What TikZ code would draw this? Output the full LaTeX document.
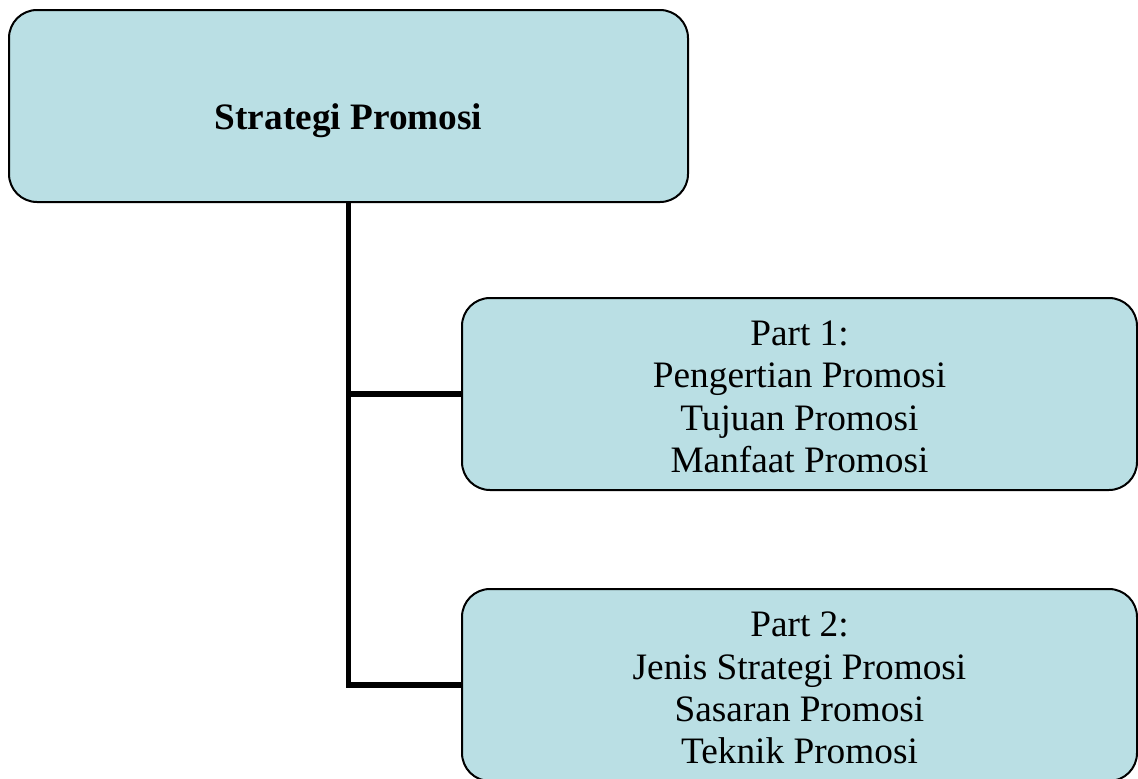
\documentclass[tikz,border=0pt]{standalone}
\usepackage{fontspec}
\setmainfont{Liberation Serif}
\definecolor{boxfill}{HTML}{BADFE4}
\begin{document}
\begin{tikzpicture}[x=1pt,y=-1pt,
  box/.style={draw=black, line width=2pt, fill=boxfill, rounded corners=28pt, inner sep=0pt},
  conn/.style={draw=black, line width=5.5pt},
  txt/.style={font=\fontsize{37.3}{42.3}\selectfont, align=center, inner sep=0pt}]
\useasboundingbox (0,0) rectangle (1138,779);
\node[box, minimum width=679pt, minimum height=192pt] (top) at (348.5,106) {};
\node[box, minimum width=675pt, minimum height=192pt] (p1) at (799.5,394) {};
\node[box, minimum width=675pt, minimum height=192pt] (p2) at (799.5,685) {};
\draw[conn] (top.south) |- (p2.west);
\draw[conn] (top.south |- p1.west) -- (p1.west);
\node[txt, font=\fontsize{37.3}{42.3}\selectfont\bfseries, anchor=base] (toptext) at (348.5,129) {Strategi Promosi};
\node[txt] (p1text) at (799.5,397) {Part 1:\\Pengertian Promosi\\Tujuan Promosi\\Manfaat Promosi};
\node[txt] (p2text) at (799.5,688) {Part 2:\\Jenis Strategi Promosi\\Sasaran Promosi\\Teknik Promosi};
\end{tikzpicture}
\end{document}
